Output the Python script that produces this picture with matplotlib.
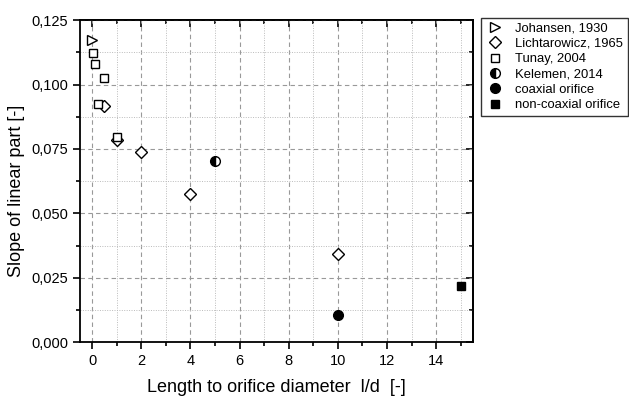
import numpy as np
import matplotlib
matplotlib.use('Agg')
import matplotlib.pyplot as plt
from matplotlib.ticker import MultipleLocator, FuncFormatter

plt.rcParams['font.family'] = ['Liberation Sans', 'DejaVu Sans']

# data
joh_x = [0.0]
joh_y = [0.1172]
licht_x = [0.5, 1.0, 2.0, 4.0, 10.0]
licht_y = [0.0918, 0.0785, 0.0740, 0.0576, 0.0343]
tunay_x = [0.05, 0.1, 0.5, 0.25, 1.0]
tunay_y = [0.1123, 0.1078, 0.1024, 0.0925, 0.0795]
kel_x = [5.0]
kel_y = [0.0705]
coax_x = [10.0]
coax_y = [0.0105]
noncoax_x = [15.0]
noncoax_y = [0.0217]

fig = plt.figure(figsize=(6.29, 3.96), dpi=100)
ax = fig.add_axes([0.127, 0.136, 0.625, 0.813])

ax.plot(joh_x, joh_y, ls='none', marker='>', ms=7, mfc='white', mec='black', mew=1, label='Johansen, 1930', zorder=3)
ax.plot(licht_x, licht_y, ls='none', marker='D', ms=6, mfc='white', mec='black', mew=1, label='Lichtarowicz, 1965', zorder=3)
ax.plot(tunay_x, tunay_y, ls='none', marker='s', ms=6, mfc='white', mec='black', mew=1, label='Tunay, 2004', zorder=3)
ax.plot(kel_x, kel_y, ls='none', marker='o', ms=7, fillstyle='left', mfc='black', mfcalt='white', mec='black', mew=1, label='Kelemen, 2014', zorder=3)
ax.plot(coax_x, coax_y, ls='none', marker='o', ms=7, mfc='black', mec='black', label='coaxial orifice', zorder=3)
ax.plot(noncoax_x, noncoax_y, ls='none', marker='s', ms=6.3, mfc='black', mec='black', label='non-coaxial orifice', zorder=3)

ax.set_xlim(-0.5, 15.5)
ax.set_ylim(0, 0.125)
ax.xaxis.set_major_locator(MultipleLocator(2))
ax.xaxis.set_minor_locator(MultipleLocator(1))
ax.yaxis.set_major_locator(MultipleLocator(0.025))
ax.yaxis.set_minor_locator(MultipleLocator(0.0125))
ax.yaxis.set_major_formatter(FuncFormatter(lambda v, p: ('%.3f' % v).replace('.', ',')))

ax.grid(which='major', color='#999999', ls=(0, (4, 3)), lw=0.8)
ax.grid(which='minor', color='#bbbbbb', ls=(0, (1, 1.5)), lw=0.7)
ax.set_axisbelow(True)

ax.tick_params(which='both', direction='out', top=False, right=False, labelsize=10.5, width=1.2)
ax.tick_params(which='major', length=5)
ax.tick_params(which='minor', length=3)
sec = ax.secondary_xaxis('top')
sec.xaxis.set_major_locator(MultipleLocator(2))
sec.xaxis.set_minor_locator(MultipleLocator(1))
sec.tick_params(which='both', direction='in', labeltop=False, width=1.2)
sec.tick_params(which='major', length=5)
sec.tick_params(which='minor', length=3)
secy = ax.secondary_yaxis('right')
secy.yaxis.set_major_locator(MultipleLocator(0.025))
secy.yaxis.set_minor_locator(MultipleLocator(0.0125))
secy.tick_params(which='both', direction='in', labelright=False, width=1.2)
secy.tick_params(which='major', length=5)
secy.tick_params(which='minor', length=3)
for s in ax.spines.values():
    s.set_linewidth(1.3)
sec.spines['top'].set_linewidth(1.3)
secy.spines['right'].set_linewidth(1.3)

ax.set_xlabel('Length to orifice diameter  l/d  [-]', fontsize=13, labelpad=8)
ax.set_ylabel('Slope of linear part [-]', fontsize=13)
ax.yaxis.set_label_coords(-0.14, 0.47)

leg = ax.legend(loc='upper left', bbox_to_anchor=(1.02, 1.008), fontsize=9.4, frameon=True,
                fancybox=False, edgecolor='black', handlelength=1.4, handletextpad=0.9,
                borderpad=0.35, labelspacing=0.25, borderaxespad=0)
leg.get_frame().set_linewidth(1.0)

fig.savefig('out.png', dpi=100)
